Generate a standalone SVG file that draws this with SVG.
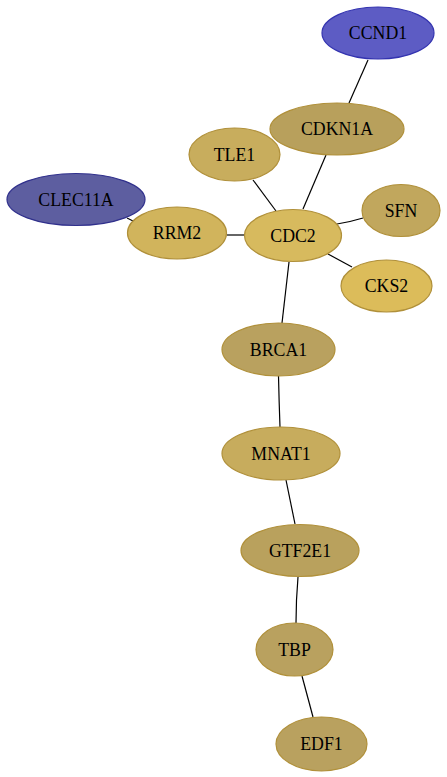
<svg xmlns="http://www.w3.org/2000/svg" width="447" height="777" viewBox="0 0 447 777">
<style>
.e{stroke:#000;stroke-width:1.2;fill:none}
.n ellipse{stroke-width:1.2}
.g ellipse{stroke:#b0903a}
.n text{font-family:"Liberation Serif","Times New Roman",serif;font-size:17.8px;text-anchor:middle;dominant-baseline:central;fill:#000}
</style>
<rect width="447" height="777" fill="#fff"/>
<g id="edges">
<path class="e" d="M368,60 L349,103"/>
<path class="e" d="M326,155 L303,209"/>
<path class="e" d="M253,180 L276,211"/>
<path class="e" d="M127,218 L135,222"/>
<path class="e" d="M227,235 L245,235"/>
<path class="e" d="M337,224 Q350,222 363,218"/>
<path class="e" d="M328,254 L352,267"/>
<path class="e" d="M289,262 L282,323"/>
<path class="e" d="M278.5,376 Q279,400 280,427"/>
<path class="e" d="M286,480 L295,524"/>
<path class="e" d="M298,577 Q296,600 296,623"/>
<path class="e" d="M302,676 L313,717"/>
</g>
<g id="CCND1" class="n"><ellipse cx="378" cy="33" rx="56" ry="26" fill="#5d5cc4" stroke="#3434b0"/><text x="378" y="33">CCND1</text></g>
<g id="CDKN1A" class="n g"><ellipse cx="337" cy="129" rx="67" ry="26" fill="#b8a05c"/><text x="337" y="129">CDKN1A</text></g>
<g id="TLE1" class="n g"><ellipse cx="234.5" cy="154.5" rx="45.5" ry="26.5" fill="#c8ad5d"/><text x="234.5" y="154.5">TLE1</text></g>
<g id="CLEC11A" class="n"><ellipse cx="76" cy="199.5" rx="69" ry="26" fill="#5d5ea0" stroke="#30308c"/><text x="76" y="199.5">CLEC11A</text></g>
<g id="RRM2" class="n g"><ellipse cx="177" cy="233" rx="49.5" ry="26" fill="#d1b45c"/><text x="177" y="233">RRM2</text></g>
<g id="CDC2" class="n g"><ellipse cx="293" cy="235.5" rx="48.5" ry="26" fill="#d7ba5e" stroke="#c8a440"/><text x="293" y="235.5">CDC2</text></g>
<g id="SFN" class="n g"><ellipse cx="401" cy="210.5" rx="39" ry="26" fill="#c1a75d"/><text x="401" y="210.5">SFN</text></g>
<g id="CKS2" class="n g"><ellipse cx="386.5" cy="286" rx="45.5" ry="26" fill="#dcbc5a" stroke="#d0aa34"/><text x="386.5" y="286">CKS2</text></g>
<g id="BRCA1" class="n g"><ellipse cx="278.5" cy="349.5" rx="56.5" ry="26.5" fill="#b9a15f"/><text x="278.5" y="349.5">BRCA1</text></g>
<g id="MNAT1" class="n g"><ellipse cx="281" cy="453.5" rx="59" ry="26.5" fill="#c7ac5d"/><text x="281" y="453.5">MNAT1</text></g>
<g id="GTF2E1" class="n g"><ellipse cx="300" cy="550.5" rx="59" ry="26" fill="#b9a15d"/><text x="300" y="550.5">GTF2E1</text></g>
<g id="TBP" class="n g"><ellipse cx="294.5" cy="649.5" rx="38.5" ry="26.5" fill="#b9a15f"/><text x="294.5" y="649.5">TBP</text></g>
<g id="EDF1" class="n g"><ellipse cx="321.5" cy="744" rx="45.5" ry="27" fill="#b9a15f"/><text x="321.5" y="744">EDF1</text></g>
</svg>
